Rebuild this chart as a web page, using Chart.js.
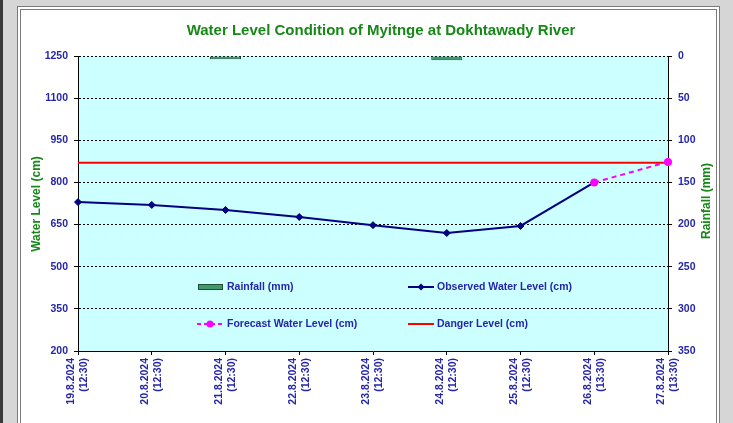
<!DOCTYPE html>
<html><head><meta charset="utf-8">
<script src="https://cdn.jsdelivr.net/npm/chart.js@4.4.1/dist/chart.umd.min.js"></script>
<style>
html,body{margin:0;padding:0;}
body{width:733px;height:423px;background:#d6d6d6;position:relative;overflow:hidden;}
#edge{position:absolute;left:0;top:0;width:3px;height:423px;background:#3a3a3a;}
#panel{position:absolute;left:17px;top:6px;width:695px;height:440px;background:#fff;border:4px double #7a7a7a;}
#c{position:absolute;left:0;top:0;}
</style></head>
<body>
<div id="edge"></div>
<div id="panel"></div>
<canvas id="c" width="733" height="423"></canvas>
<script>
const categories = [
  ["19.8.2024","(12:30)"],["20.8.2024","(12:30)"],["21.8.2024","(12:30)"],
  ["22.8.2024","(12:30)"],["23.8.2024","(12:30)"],["24.8.2024","(12:30)"],
  ["25.8.2024","(12:30)"],["26.8.2024","(13:30)"],["27.8.2024","(13:30)"]
];
const rainfall = [0, 0, 4, 0, 0, 5, 0, 0, 0];
const observedLevel = [730, 720, 702, 677, 648, 620, 645, 800, null];
const forecastLevel = [null, null, null, null, null, null, null, 800, 873];
const dangerLevel = [870, 870, 870, 870, 870, 870, 870, 870, 870];
const levelAxis = {min: 200, max: 1250, step: 150};
const rainAxis = {min: 0, max: 350, step: 50};

const TITLE = "Water Level Condition of Myitnge at Dokhtawady River";
const FONT = '"Liberation Sans", Arial, sans-serif';
const BLUE = '#2626A8';
const GREEN = '#178817';

Chart.defaults.font.family = FONT;

const deco = {
  id: 'deco',
  beforeDraw(chart) {
    const {ctx, chartArea: a} = chart;
    ctx.save();
    ctx.fillStyle = '#CCFFFF';
    ctx.fillRect(a.left, a.top, a.right - a.left, a.bottom - a.top);
    ctx.restore();
  },
  afterDraw(chart) {
    const {ctx} = chart;
    ctx.save();
    ctx.fillStyle = GREEN;
    ctx.font = 'bold 15px ' + FONT;
    ctx.textAlign = 'center';
    ctx.textBaseline = 'middle';
    ctx.fillText(TITLE, 381, 31);
    ctx.font = 'bold 12px ' + FONT;
    ctx.save(); ctx.translate(37, 204); ctx.rotate(-Math.PI/2); ctx.fillText('Water Level (cm)', 0, 0); ctx.restore();
    ctx.save(); ctx.translate(707, 201); ctx.rotate(-Math.PI/2); ctx.fillText('Rainfall (mm)', 0, 0); ctx.restore();
    ctx.font = 'bold 10.5px ' + FONT;
    ctx.textAlign = 'left';
    const r1 = 287, r2 = 324;
    ctx.fillStyle = '#3F9A6A'; ctx.fillRect(198.5, r1 - 2.5, 24, 5);
    ctx.strokeStyle = '#1E4E33'; ctx.lineWidth = 1; ctx.strokeRect(198.5, r1 - 2.5, 24, 5);
    ctx.fillStyle = BLUE; ctx.fillText('Rainfall (mm)', 227, r1);
    ctx.strokeStyle = '#000080'; ctx.lineWidth = 2;
    ctx.beginPath(); ctx.moveTo(408, r1); ctx.lineTo(434, r1); ctx.stroke();
    ctx.fillStyle = '#000080';
    ctx.beginPath(); ctx.moveTo(421, r1 - 3.5); ctx.lineTo(424.5, r1); ctx.lineTo(421, r1 + 3.5); ctx.lineTo(417.5, r1); ctx.closePath(); ctx.fill();
    ctx.fillStyle = BLUE; ctx.fillText('Observed Water Level (cm)', 437, r1);
    ctx.strokeStyle = '#FF00FF'; ctx.lineWidth = 2; ctx.setLineDash([4, 3]);
    ctx.beginPath(); ctx.moveTo(197, r2); ctx.lineTo(223, r2); ctx.stroke();
    ctx.setLineDash([]);
    ctx.fillStyle = '#FF00FF';
    ctx.beginPath(); ctx.arc(210, r2, 3.5, 0, Math.PI*2); ctx.fill();
    ctx.fillStyle = BLUE; ctx.fillText('Forecast Water Level (cm)', 227, r2);
    ctx.strokeStyle = '#FF0000'; ctx.lineWidth = 2;
    ctx.beginPath(); ctx.moveTo(408, r2); ctx.lineTo(434, r2); ctx.stroke();
    ctx.fillStyle = BLUE; ctx.fillText('Danger Level (cm)', 437, r2);
    ctx.restore();
  }
};

new Chart(document.getElementById('c'), {
  type: 'line',
  data: {
    labels: categories,
    datasets: [
      {
        label: 'Forecast Water Level (cm)', data: forecastLevel, yAxisID: 'y', order: 0,
        borderColor: '#FF00FF', backgroundColor: '#FF00FF', borderWidth: 2, borderDash: [5, 4],
        pointStyle: 'circle', pointRadius: 4, pointBorderWidth: 0, tension: 0, spanGaps: false
      },
      {
        label: 'Observed Water Level (cm)', data: observedLevel, yAxisID: 'y', order: 1,
        borderColor: '#000080', backgroundColor: '#000080', borderWidth: 2,
        pointStyle: 'rectRot', pointRadius: 3.5, pointBorderWidth: 1, tension: 0
      },
      {
        label: 'Danger Level (cm)', data: dangerLevel, yAxisID: 'y', order: 2,
        borderColor: '#FF0000', borderWidth: 2, pointRadius: 0, tension: 0
      },
      {
        type: 'bar', label: 'Rainfall (mm)', data: rainfall, yAxisID: 'y1', order: 3,
        backgroundColor: '#3F9A6A', borderColor: '#1E4E33', borderWidth: 1,
        categoryPercentage: 1, barPercentage: 0.42
      }
    ]
  },
  options: {
    responsive: false,
    animation: false,
    events: [],
    layout: {padding: {top: 56, left: 0, right: 0, bottom: 0}},
    plugins: {legend: {display: false}, title: {display: false}, tooltip: {enabled: false}},
    scales: {
      x: {
        type: 'category', offset: false,
        grid: {display: true, drawOnChartArea: false, drawTicks: true, tickLength: 4, tickColor: '#000', offset: false},
        border: {display: true, color: '#000', width: 1},
        ticks: {color: BLUE, font: {size: 10.5, weight: 'bold', lineHeight: '13px'}, maxRotation: 90, minRotation: 90, autoSkip: false, padding: 3, labelOffset: -6.5},
        afterFit(s) { s.height = 72; }
      },
      y: {
        position: 'left', min: levelAxis.min, max: levelAxis.max,
        grid: {color: '#000', lineWidth: 1, drawTicks: true, tickLength: 4, tickColor: '#000', tickBorderDash: []},
        border: {display: true, color: '#000', width: 1, dash: [2, 2]},
        ticks: {stepSize: levelAxis.step, color: BLUE, font: {size: 10.5, weight: 'bold'}, padding: 6,
                callback: v => String(v)},
        afterFit(s) { s.width = 78; }
      },
      y1: {
        position: 'right', min: rainAxis.min, max: rainAxis.max, reverse: true,
        grid: {drawOnChartArea: false, drawTicks: true, tickLength: 4, tickColor: '#000'},
        border: {display: true, color: '#000', width: 1},
        ticks: {stepSize: rainAxis.step, color: BLUE, font: {size: 10.5, weight: 'bold'}, padding: 6,
                callback: v => String(v)},
        afterFit(s) { s.width = 65; }
      }
    }
  },
  plugins: [deco]
});
</script>
</body></html>
